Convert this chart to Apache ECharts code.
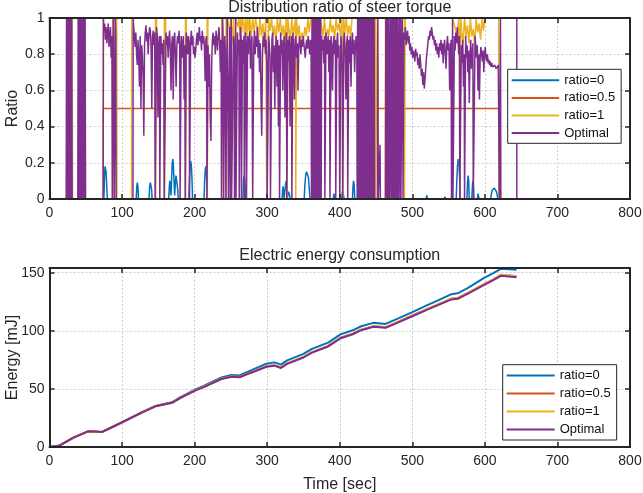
<!DOCTYPE html>
<html>
<head>
<meta charset="utf-8">
<script src="https://cdn.jsdelivr.net/npm/echarts@6/dist/echarts.min.js"></script>
<style>html,body{margin:0;padding:0;background:#fff}#c{width:643px;height:493px}</style>
</head>
<body>
<div id="c"></div>
<script>
// ---------- DATA ----------
const seriesNames = ['ratio=0', 'ratio=0.5', 'ratio=1', 'Optimal'];
const topTitle = 'Distribution ratio of steer torque';
const bottomTitle = 'Electric energy consumption';

// Top plot: [time (s), ratio]
const ratio0Pts = [[0,0],
[75,0],[75.8,0.12],[76.5,0.18],[77.2,0.19],[78,0.15],[79,0.06],[79.6,0],
[119.5,0],[120.3,0.07],[121,0.09],[121.8,0.07],[122.6,0],
[137.2,0],[138,0.07],[139,0.09],[140,0.085],[140.8,0.05],[141.4,0],
[164.2,0],[165,0.06],[165.8,0.1],[166.6,0.07],[167.4,0.02],[168.2,0.1],[169.2,0.2],[170,0.22],[170.8,0.18],[171.8,0.08],[172.5,0.02],[173.3,0.08],[174.3,0.13],[175,0.14],[175.8,0.12],[176.8,0.05],[177.5,0],
[192,0],[192.8,0.1],[193.6,0.18],[194.5,0.21],[195.4,0.19],[196.3,0.12],[197.2,0],
[213,0],[213.8,0.1],[214.6,0.16],[215.4,0.18],[216.2,0.15],[217,0.07],[217.6,0],
[266.5,0],[267.3,0.1],[268.2,0.13],[269,0.11],[269.8,0.05],[270.4,0],
[320.5,0],[321.3,0.05],[322,0.07],[322.8,0.03],[323.3,0],[324.5,0],[325.3,0.08],[326,0.1],[326.8,0.06],[327.4,0],[328.8,0],[329.5,0.04],[330.2,0.05],[331,0.02],[331.5,0],
[351,0],[352,0.08],[353,0.13],[354.2,0.15],[355.5,0.15],[356.8,0.12],[358,0.06],[359,0],
[391,0],[392,0.03],[393,0],
[402.8,0],[403.6,0.04],[404.4,0.05],[405.2,0.02],[405.8,0],
[417.5,0],[418.3,0.07],[419,0.1],[419.8,0.08],[420.6,0],
[519,0],[520,0.02],[521,0],[534,0],[535,0.01],[536,0],[544,0],[545,0.012],[546,0],
[560.5,0],[561.3,0.1],[562.2,0.18],[563.2,0.22],[564.2,0.2],[565.2,0.12],[566.2,0],
[575.3,0],[576.1,0.09],[576.9,0.13],[577.7,0.1],[578.5,0],
[582,0],[582.8,0.07],[583.5,0.1],[584.3,0.07],[585,0],
[589.8,0],[590.6,0.03],[591.3,0.04],[592,0],
[608,0],[609,0.03],[610.2,0.05],[611.5,0.06],[613,0.06],[614.5,0.055],[616,0.04],[617,0.02],[618,0],
[644,0]];

const ratio05Pts = [[0,0],[74,0],[74,0.5],[620,0.5],[620,0],[644,0]];

const ratio1Pts = [[0,0],[31,0],[31.3,1],[31.8,0],[74,0],[74.2,1],[87,1],[87.3,0],[88.2,0],[88.5,1],[92.6,1],[93,0],[113,0],[113.4,1],
[146,1],[146.3,0],[147.2,0],[147.5,1],[158.3,1],[158.6,0],[159.8,0],[160.1,1],[187.3,1],[187.6,0],[188.2,0],[188.5,1],
[217.2,1],[217.5,0],[218,0],[218.3,1],[237.3,1],[237.5,0],[238.2,0],[238.4,1],[243.3,1],[243.5,0],[244.8,0],[245,1],
[247.5,0.95],[248.5,0.88],[249.5,1],[250.5,0.9],[251.5,0.95],[252.5,0.86],[253.5,1],[255.2,1],[255.4,0],[256.2,0],[256.4,1],
[260,0.95],[261,1],[262.5,0.9],[263.5,1],[265,0.92],[266,1],[268,0.96],[269,0.88],[270,1],[272,0.9],[273,1],[275,0.93],[276,1],
[278,0.9],[280,1],[282,0.92],[284,1],[286,0.95],[288,0.88],[290,1],[292,0.9],[294,0.97],[296,0.86],[298,1],[299.2,1],[299.4,0],
[301.8,0],[302,1],[304,0.93],[306,1],[308,0.9],[310,0.96],[312,0.86],[314,1],[316,0.92],[318,1],[320,0.9],[322,0.96],[324,0.88],
[326,1],[327.2,1],[327.4,0],[328.2,0],[328.4,1],[330,0.94],[332,0.88],[334,1],[336,0.9],[338,0.97],[339.2,1],[339.4,0],[340.2,0],
[340.4,1],[342,0.9],[344,0.96],[346,0.86],[348,0.92],[350,0.88],[352,0.95],[354,0.9],[356,1],[358,0.92],[360,1],[370.5,1],[370.7,0],
[372.6,0],[372.8,1],[375,0.95],[377,0.9],[379,1],[381,0.88],[383,0.94],[385,0.9],[387,1],[389,0.92],[391,0.96],[393,0.88],[395,1],
[397,0.93],[399,0.97],[401,0.9],[403,1],[404.3,1],[404.5,0],[405.2,0],[405.4,1],[407,0.92],[409,1],[411,0.9],[413,0.96],[415,0.9],
[417,1],[427,1],[427.2,0],[429,0],[429.2,1],[434,1],[434.2,0],[436.5,0],[436.7,1],[449,1],[449.2,0],[451.6,0],[451.8,1],[453.2,1],
[453.4,0],[462.8,0],[463,1],[489,1],[489.2,0],[490,0],[490.2,1],[555,1],[558,0.96],[562,0.9],[564,1],[565,0.9],[565.3,0],[566.5,0],
[566.8,1],[568,0.92],[570,0.86],[572,1],[574,0.9],[576,0.96],[578,0.86],[580,1],[582,0.9],[584,0.94],[586,0.85],[588,1],[590,0.92],
[592,0.97],[594,0.88],[596,1],[598,0.93],[600,1],[619,1],[619.2,0],[644,0]];

const optimalPts = [[0,1],[0.6,0],[23,0],
[23.5,1],[24,0],[24.6,1],[25.2,0],[25.8,1],[26.4,0],[27,1],[27.6,0],[28.2,1],[28.8,0],[29.4,1],[30,0],[30.6,1],[31.2,0],
[39,0],[39.5,1],[40.1,0],[40.7,1],[41.3,0],[41.9,1],[42.5,0],[43.1,1],[43.7,0],[44.3,1],[44.9,0],[45.5,1],[46.1,0],[46.7,1],[47.3,0],[47.9,1],[48.5,0],[49.1,1],[49.7,0],
[74,0],[74.3,1],[75,0.93],[76,0.97],[77,0.88],[78,0.95],[79,0.86],[80,0.92],[81,0.97],[82,0.84],[83,0.9],[84,0.95],[85,0.78],[86,0.9],[86.5,0],[87.5,0],[88,1],[88.6,0.62],[89.2,0],[90.2,0],[90.7,1],[91.3,0.9],[91.8,0],
[115,0],[115.3,1],[116,0.95],[117,0.9],[118,0.84],[119,0.92],[120,0.8],[121,0.74],[122,0.88],[123,0.78],[124,0.62],[125,0.9],[126,0.5],[127,0.85],[128,0.8],[129,0.68],[130,0.35],[131,0.85],[132,0.92],[133,0.96],[134,0.87],[135,0.92],[136,0.8],[137,0.9],[138,0.95],[139,0.93],[140,0.84],[141,0.5],[142,0.9],[143,0.93],[144,0.85],[145,0.92],[145.6,0],[147,0],[147.5,0.95],[148.5,0.9],[149.5,0.45],[150.5,0.85],[151.5,0.9],[152,0],[153,0],[153.5,0.9],[154.5,0.8],[155.5,0.86],[156.5,0.74],[157.5,0.88],[158,0],[160,0],[160.5,0.92],
[161.5,0.85],[162.5,0.9],[163.5,0.78],[164.5,0.88],[165.5,0.93],[166.5,0.82],[167.5,0.6],[168.5,0.86],[169.5,0.9],[170.5,0.55],[171.5,0.88],[172.5,0.92],[173.5,0.8],[174.5,0.62],[175.5,0.85],[176.5,0.9],[177.5,0.86],[178.5,0.93],[179.5,0.84],[180,0],[181,0],[181.5,0.9],[182.5,0.86],[183.5,0.78],[184.5,0.9],[185.5,0.55],[186.5,0.85],[187,0],[188,0],[188.5,0.92],[189.5,0.88],[190.5,0.8],[191.5,0.9],[192.5,0.86],[193,0],[194,0],[194.5,0.88],[195.5,0.93],[196.5,0.85],[197.5,0.9],[198.5,0.8],[199.5,0.84],[200.5,0.78],[201.5,0.82],[202.5,0.88],[203.5,0.92],[204.5,0.85],[205.5,0.9],[206.5,0.95],[207.5,0.87],[208.5,0.9],[209.5,0.82],[210.5,0.93],[211.5,0.86],[212.5,0.9],[213.5,0.84],[214.5,0.65],[215.5,0.88],[216.5,0.9],[217,0],[218,0],[218.5,0.85],[219.5,0.62],[220.5,0.8],[221.5,0.45],[222.5,0.32],[223.5,0.75],[224.5,0.88],[225.5,0.92],[226.5,0.85],[227.5,0.9],[228.5,0.8],[229.5,0.93],[230.5,0.88],[231.5,0.82],[232.5,0.9],[233.5,0.95],[234.5,0.87],[235.5,0.7],[236.5,0.88],
[237,0],[238,0],[238.5,1],[239.5,0.85],[240,0],[241,0],[241.5,0.9],[242.5,0.8],[243,0],[244.5,0],[245,1],[246,0.6],[246.5,0],[248,0],[248.5,0.95],[249,0],[250,0],[250.5,1],[251,0],[253,0],[253.5,0.9],[254.5,0.86],[255,0],[256,0],[256.5,1],[257,0],[258.5,0],[259,0.92],[260,0.8],[261,0.88],[261.5,0],[262.5,0],[263,0.95],[264,0.9],[264.5,0],[265.5,0],[266,0.88],[267,0.75],[268,0.9],[268.5,0],[269.5,0],[270,0.92],[271,0.85],[271.5,0],[272.5,0],[273,0.9],
[274,0.8],[275,0.88],[276,0.93],[277,0.72],[278,0.86],[279,0.9],[280,0],[281,0],[281.5,0.85],[282.5,0.93],[283.5,0.8],[284.5,0.9],[285.5,0.84],[286.5,0.95],[287.5,0.78],[288.5,0.88],[289.5,0.7],[290.5,0.86],[291.5,0.55],[292.5,0.35],[293.5,0.8],[294.5,0.9],[295.5,0.84],[296.5,0.92],[297.5,0.8],[298.5,0.88],[299.5,0.75],[300,0],[301.5,0],[302,0.9],[303,0.85],[304,0.78],[304.5,0],[306,0],[306.5,0.88],[307.5,0.92],[308.5,0.7],[309.5,0.85],[310.5,0.5],[311.5,0.82],[312.5,0.9],[313.5,0.62],[314.5,0.88],[315.5,0.4],[316.5,0.85],[317,0],[318,0],[318.5,0.92],[319.5,0.8],[320.5,0.88],[321.5,0.6],[322.5,0.85],[323.5,0.9],[324.5,0.45],[325.5,0.83],[326.5,0.92],[327,0],[328,0],[328.5,0.88],[329.5,0.76],[330.5,0.9],[331.5,0.4],[332.5,0.85],[333.5,0.9],[334,0],[335,0],[335.5,0.92],[336.5,0.82],[337.5,0.55],[338.5,0.88],[339.5,0.9],[340.5,0.78],[341.5,0.86],[342.5,0.6],[343.5,0.84],[344.5,0.9],
[345.5,0.85],[346.5,0.8],[347.5,0.88],[348.5,0.84],[349.5,0.9],[350.5,0.86],[351.5,0.82],[352.5,0.78],[353.5,0.85],[354.5,0.88],[355.5,0.83],[356.5,0.9],[357.5,0.86],[358.5,0.8],[359.5,0.88],[360.5,0.84],[361,0],
[361.8,1],[362.4,0],[363,1],[363.6,0],[364.2,1],[364.8,0],[365.4,1],[366,0],[366.6,1],[367.2,0],[367.8,1],[368.4,0],[369,1],[369.6,0],[370.2,1],[370.8,0],[371.4,1],[372,0],[372.6,1],[373.2,0],[373.8,1],[374.4,0],[375,0.9],
[376,0.82],[377,0.88],[378,0.75],[379,0.9],[379.5,0],[380.5,0],[381,0.92],[382,0.86],[383,0.8],[384,0.9],[385,0.7],[386,0.88],[386.5,0],[387.5,0],[388,0.9],[389,0.84],[390,0.6],[391,0.85],[392,0.9],[393,0.8],[394,0.88],[394.5,0],[395.5,0],[396,0.86],[397,0.92],[398,0.78],[399,0.85],[400,0],[401,0],
[401.5,0.9],[402.5,0.86],[403.5,0.7],[404,0],[405,0],[405.5,0.88],[406.5,0.92],[407.5,0.8],[408.5,0.55],[409.5,0.86],[410.5,0.9],[411,0],[412,0],[412.5,0.88],[413.5,0.75],[414.5,0.9],[415.5,0.62],[416.5,0.85],[417.5,0.92],[418.5,0.8],[419.5,0.88],[420.5,0.7],[421.5,0.84],[422.5,0.9],[423.5,0.86],[424,0],
[424.6,1],[425.2,0],[425.8,1],[426.4,0],[427,1],[427.6,0],[428.2,1],[428.8,0],[429.4,1],[430,0],[430.6,1],[431.2,0],[431.8,1],[432.4,0],[433,1],[433.6,0],[434.2,1],[434.8,0],[435.4,1],[436,0],[436.6,1],[437.2,0],[437.8,1],[438.4,0],[439,1],[439.6,0],[440.2,1],[440.8,0],[441.4,1],[442,0],[442.6,1],[443.2,0],[443.8,1],[444.4,0],[445,1],[445.6,0],[446.2,1],[446.8,0],[447.4,1],[448,0],
[452,0],[452.5,1],[453,0],[455,0],[455.5,0.3],[456,0],[463,0],
[463.5,1],[464.1,0],[464.7,1],[465.3,0],[466,0],[466.5,1],[467.1,0],[467.7,1],[468.3,0],[469.5,0],[470,1],[470.6,0],[471.2,1],[471.8,0],[472.4,1],[473,0],[474,0],[474.5,1],[475.1,0],[475.7,1],[476.3,0],[476.9,1],[477.5,0],[478.5,0],[479,1],[479.6,0],[480.2,1],[480.8,0],[482,0],[482.5,1],[483.1,0],[483.7,1],[484.3,0],[485.5,0],[486,1],[486.6,0.9],[487.2,0],[488,0],
[488.5,0.92],[489.5,0.88],[490.5,0.95],[491.5,0.85],[492.5,0.9],[493.5,0.93],[494.5,0.86],[495.5,0.9],[496.5,0.82],[497.5,0.86],[498.5,0.8],[499.5,0.84],[500.5,0.78],[501.5,0.82],[502.5,0.8],[503.5,0.76],[504.5,0.83],[505.5,0.79],[506.5,0.81],[507.5,0.74],[508.5,0.78],[509.5,0.72],[510.5,0.8],[511.5,0.75],[512.5,0.68],[513.5,0.72],[514.5,0.63],[515.5,0.7],[516.5,0.61],[517.5,0.66],[518.5,0.72],[519.5,0.78],[520.5,0.82],[521.5,0.86],[522.5,0.9],[523.5,0.88],[524.5,0.93],[525.5,0.9],[526.5,0.95],[527.5,0.92],[528.5,0.88],[529.5,0.9],[530.5,0.85],[531.5,0.88],[532.5,0.82],[533.5,0.86],[534.5,0.8],[535.5,0.84],[536.5,0.78],[537.5,0.86],[538.5,0.82],[539.5,0.88],[540.5,0.8],[541.5,0.86],[542.5,0.75],[543.5,0.84],[544.5,0.88],[545.5,0.8],[546.5,0.72],[547.5,0.85],[548.5,0.9],[549.5,0.82],[550.5,0.86],[551.5,0.6],[552.5,0.82],[553.5,0.88],[554,0],[555,0],[555.5,1],[556,0],[557.5,0],[558,0.9],
[559,0.82],[560,0.92],[561,0.86],[562,0.95],[563,0.88],[564,0.8],[565,0.9],[565.5,0],[567,0],[567.5,0.85],[568.5,0.75],[569.5,0.88],[570.5,0.62],[571.5,0.8],[572,0],[573,0],[573.5,0.9],[574.5,0.78],[575.5,0.85],[576.5,0.7],[577.5,0.82],[578.5,0.53],[579.5,0.78],[580.5,0.88],[581.5,0.72],[582.5,0.8],[583.5,0.86],[584,0],[586,0],[586.5,0.9],[587.5,0.84],[588.5,0.78],[589.5,0.85],[590.5,0.6],[591.5,0.8],[592.5,0.55],[593.5,0.78],[594.5,0.84],[595.5,0.8],[596.5,0.76],[597.5,0.82],[598.5,0.7],[599.5,0.8],[600.5,0.84],[601.5,0.78],[602.5,0.76],[603.5,0.8],[604.5,0.75],[605.5,0.77],[606.5,0.74],[607.5,0.76],[608.5,0.73],[609.5,0.75],[610.5,0.73],[611.5,0.74],[612.5,0.72],[613.5,0.74],[614.5,0.73],[615.5,0.72],[616.5,0.73],[617.5,0.72],[618.5,0.74],[619.5,0.73],[620,0],[621,0],[621.5,1],[622,0],[644,0],[644,1]];

// Bottom plot: energy [mJ] vs time [s]
const energyTime    = [0,13,33,53,72.5,81,101,123.5,146,157.5,169,180,200.5,214,237,251,262,276,299,310,319,327.5,350,361,384,401,418,429.5,446.5,463,480,500,520,537,554,562.6,576.8,599,611,622,643.6];
const energyRatio0  = [0,1,8,13.5,13,15.6,21.7,28.8,35.4,37,38.6,42.7,49.4,53,59.8,62,61.6,65.5,71.7,72.8,70.9,74.5,80.1,84.2,89.8,96.9,100.4,103.9,106.8,105.9,110.4,116,121.8,126.6,131.5,132.2,136.9,145.5,149.3,153.3,152.4];
const energyRatio05 = [0,1,8,13.5,13,15.5,21.6,28.6,35.1,36.6,38.2,42.2,48.7,52.2,58.8,60.8,60.3,63.8,69.4,70.4,68.4,71.9,77.4,81.4,87,94,97.5,101,104,103,107.6,113.1,118.6,123.2,127.7,128.2,132.7,140.2,144,148.2,146.9];
const energyRatio1  = [0,1,8,13.5,13,15.5,21.55,28.55,35.05,36.55,38.1,42.1,48.6,52.1,58.7,60.7,60.2,63.7,69.3,70.3,68.3,71.8,77.3,81.3,86.9,93.9,97.4,100.9,103.9,102.9,107.5,113,118.5,123.1,127.6,128.1,132.6,140.1,143.9,148.1,146.8];
const energyOptimal = [0,1,8,13.5,13,15.5,21.5,28.5,35,36.5,38,42,48.5,52,58.5,60.5,60,63.5,69,70,68,71.5,77,81,86.5,93.5,97,100.5,103.5,102.5,107,112.5,118,122.5,127,127.5,132,139.5,143.3,147.3,146];

// ---------- STYLE ----------
const colors = ['#0072BD', '#D95319', '#EDB120', '#7E2F8E'];
const FONT = "'Liberation Sans', Arial, Helvetica, sans-serif";
const INK = '#262626';

function frameX(gridIndex, position, extra) {
  return Object.assign({
    type: 'value', gridIndex, position, min: 0, max: 800, interval: 100, z: 10,
    axisLine: { show: true, onZero: false, lineStyle: { color: INK, width: 2 } },
    axisTick: { show: true, inside: true, length: 5, lineStyle: { color: INK, width: 1.5 } },
    axisLabel: { show: false },
    splitLine: { show: false },
    nameMoveOverlap: false
  }, extra || {});
}
function frameY(gridIndex, position, min, max, interval, extra) {
  return Object.assign({
    type: 'value', gridIndex, position, min, max, interval, z: 10,
    axisLine: { show: true, onZero: false, lineStyle: { color: INK, width: 2 } },
    axisTick: { show: true, inside: true, length: 5, lineStyle: { color: INK, width: 1.5 } },
    axisLabel: { show: false },
    splitLine: { show: false },
    nameMoveOverlap: false
  }, extra || {});
}
const gridLineStyle = { color: '#cfcfcf', width: 1, type: [2, 2] };
function splitX(gridIndex) {
  return { type: 'value', gridIndex, position: 'bottom', min: 0, max: 800, interval: 100, z: 0,
    axisLine: { show: false }, axisTick: { show: false }, axisLabel: { show: false },
    splitLine: { show: true, lineStyle: gridLineStyle } };
}
function splitY(gridIndex, min, max, interval) {
  return { type: 'value', gridIndex, position: 'left', min, max, interval, z: 0,
    axisLine: { show: false }, axisTick: { show: false }, axisLabel: { show: false },
    splitLine: { show: true, lineStyle: gridLineStyle } };
}
const tickLabel = { show: true, color: INK, fontSize: 14, fontFamily: FONT };
const nameStyle = { color: INK, fontSize: 16, fontFamily: FONT };

const E_MAX = 154;

const topData = [ratio0Pts, ratio05Pts, ratio1Pts, optimalPts];
const series = [];
seriesNames.forEach((n, i) => {
  series.push({
    name: n, type: 'line', xAxisIndex: 0, yAxisIndex: 0, data: topData[i],
    showSymbol: false, symbol: 'none', animation: false,
    lineStyle: { color: colors[i], width: 1.5 }, itemStyle: { color: colors[i] }
  });
});
const bottomVals = [energyRatio0, energyRatio05, energyRatio1, energyOptimal];
seriesNames.forEach((n, i) => {
  series.push({
    name: n, type: 'line', xAxisIndex: 3, yAxisIndex: 3,
    data: energyTime.map((t, k) => [t, bottomVals[i][k]]),
    showSymbol: false, symbol: 'none', animation: false,
    lineStyle: { color: colors[i], width: 2 }, itemStyle: { color: colors[i] }
  });
});

const legendBase = {
  orient: 'vertical', selectedMode: false, icon: 'rect', itemHeight: 2,
  backgroundColor: '#fff', borderColor: INK, borderWidth: 1, borderRadius: 0,
  textStyle: { color: '#111', fontSize: 13, fontFamily: FONT, lineHeight: 15 },
  data: seriesNames
};

const option = {
  animation: false,
  backgroundColor: '#fff',
  textStyle: { fontFamily: FONT },
  grid: [
    { left: 49.5, top: 18, right: 13, bottom: 294, outerBoundsMode: 'none', containLabel: false },
    { left: 49.5, top: 268, right: 13, bottom: 46, outerBoundsMode: 'none', containLabel: false }
  ],
  legend: [
    Object.assign({}, legendBase, { left: 507.7, top: 69.3, itemWidth: 47.5, itemGap: 2.6, padding: [3.5, 6, 2.7, 4] }),
    Object.assign({}, legendBase, { left: 502.7, top: 364.7, itemWidth: 48, itemGap: 3, padding: [3.2, 6, 3.1, 4] })
  ],
  xAxis: [
    frameX(0, 'bottom', { axisLabel: Object.assign({ margin: 7 }, tickLabel) }),
    frameX(0, 'top', { name: topTitle, nameLocation: 'middle', nameGap: 2, nameTextStyle: nameStyle }),
    splitX(0),
    frameX(1, 'bottom', { axisLabel: Object.assign({ margin: 7 }, tickLabel),
      name: 'Time [sec]', nameLocation: 'middle', nameGap: 30, nameTextStyle: nameStyle }),
    frameX(1, 'top', { name: bottomTitle, nameLocation: 'middle', nameGap: 4, nameTextStyle: nameStyle }),
    splitX(1)
  ],
  yAxis: [
    frameY(0, 'left', 0, 1, 0.2, { axisLabel: Object.assign({ margin: 5 }, tickLabel),
      name: 'Ratio', nameLocation: 'middle', nameGap: 29, nameTextStyle: nameStyle }),
    frameY(0, 'right', 0, 1, 0.2),
    splitY(0, 0, 1, 0.2),
    frameY(1, 'left', 0, E_MAX, 50, { axisLabel: Object.assign({ margin: 5,
        formatter: v => (Math.abs(v % 50) < 1e-9 ? String(v) : '') }, tickLabel),
      name: 'Energy [mJ]', nameLocation: 'middle', nameGap: 29, nameTextStyle: nameStyle }),
    frameY(1, 'right', 0, E_MAX, 50),
    splitY(1, 0, E_MAX, 50)
  ],
  series
};

const chart = echarts.init(document.getElementById('c'), null, { renderer: 'canvas' });
chart.setOption(option);
</script>
</body>
</html>
